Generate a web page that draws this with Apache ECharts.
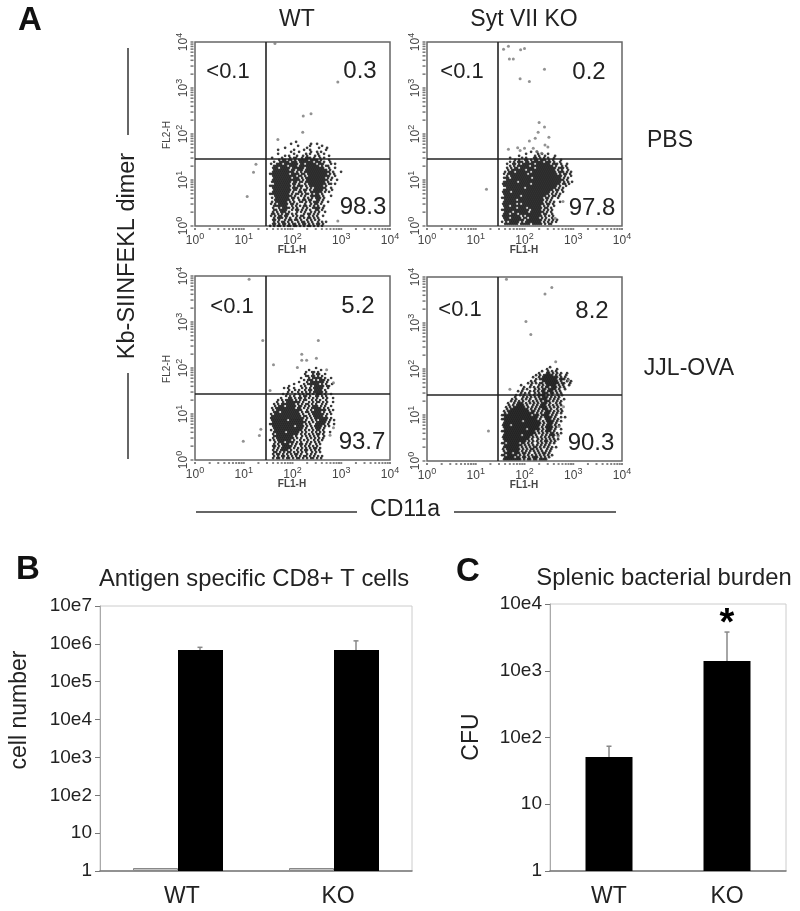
<!DOCTYPE html>
<html lang="en">
<head>
<meta charset="UTF-8">
<title>Flow cytometry and bars</title>
<script src="https://cdn.jsdelivr.net/npm/echarts@6/dist/echarts.min.js"></script>
<style>html,body{margin:0;background:#fff}#main{width:800px;height:911px}#main canvas{filter:blur(0.4px)}</style>
</head>
<body>
<div id="main"></div>
<script>
// flow panels: outliers are [log10 CD11a, log10 dimer]
var flowExp = ['0', '1', '2', '3', '4'];
var wtPbsOut = [[2.93,3.13],[2.22,2.39],[2.38,2.44],[2.21,2.04],[1.70,1.88],[1.25,1.34],[1.20,1.17],[1.07,0.64],[1.64,3.97],[2.93,0.11]];
var koPbsOut = [[1.57,3.84],[1.67,3.91],[1.92,3.83],[2.0,3.86],[1.69,3.63],[1.77,3.63],[2.41,3.41],[1.91,3.2],[2.10,3.14],[2.30,2.25],[2.41,2.15],[2.28,2.04],[2.50,1.93],[2.22,1.91],[2.10,1.85],[2.42,1.76],[2.48,1.72],[1.67,1.67],[1.86,1.70],[2.0,1.69],[1.91,1.64],[2.18,1.69],[2.25,1.62],[2.35,1.58],[1.22,0.80],[2.79,0.53],[2.63,0.17]];
var wtOvaOut = [[1.11,3.93],[1.39,2.60],[2.53,2.60],[2.19,2.30],[2.19,2.17],[2.29,2.17],[2.49,2.21],[1.61,2.07],[2.10,2.01],[2.70,1.96],[1.54,1.51],[2.84,1.68],[0.99,0.41],[1.32,0.53],[1.35,0.67],[2.84,0.70],[2.77,0.54]];
var koOvaOut = [[1.63,3.95],[2.56,3.77],[2.42,3.63],[2.03,3.03],[2.13,2.75],[2.64,2.16],[1.70,1.56],[2.90,1.76],[1.26,0.65],[2.80,1.18],[2.71,0.75],[2.69,0.53]];

// dense clouds, transcribed as dot maps: '#' = a dot, rows run top to bottom
var wtPbsCloud = [
'..............#','...........#.........#..#','...............#.....#.....#','........#..........#.....#...#',
'.....#.......#....#..#.......#','...........#...#.....#..#.#','.....#.......#.....#.#...#..#','........#.#...#..#.#...#.#....#',
'..#....#...#.##..#.###.#..#.#','.....#.##.##.#.#####.####.#...#','...#..#####.###.#######.###.#..#','.#..###.#######.##.#####.###...#.#',
'...#######.####.##########.#.##','..###.#####.######.#########..#..#','...########.##.###.###########.#','..###########.#.#.#############.#...#',
'.##########.####.##.##########.#.#','..############.##.#.###########..#','...#########.###.#.##########.#.#','..##############.#.###########.#..#',
'..##########.##.##.##########.#','...########.##.#..#.#########.##.#','.###########.#.###.#.#######.#','..#########.###.#..#.#.######..#',
'...#########.##.#.##.#.#####.#..#','..#########.#..##.#..######.#.#','.##########.#.##.#.##.#.##.#','...#########.#..#.#..#####.#...#',
'..#.#######.##.#..#.#.#.###.#','...########.#..#.##.##..##.#','..#.######.#.#..##.#.#.###.#..#','.#.#.#####.##.#...#..#.##.#',
'...#######..#.#.#.##.#.#.#..#','..#..#.####.#.#..#.#..####.#','...##.####..#.##.#.#.#..##.#','..#.#.###.#...#.#.#..#.#.#..#',
'..##.#.#.##.#.#...#.##.#.#','.#.#.##.##..#.#.##..#.#.#..#','...#.###.#.#..#.#.#.##.#.#','..##.#..#.##.##.#..#.#.#.#',
'...#.#.##.#.#..#.##.#.#..#.#.#','..##.#.##.#.##.#.##.#.#.##.#','.#.#.##.#.##.##.#.#.##.#.#.#'];
var koPbsCloud = [
'','','','','','...............#..#','.............#.....#.#..#','.........#.......#.#..#....#',
'.....#.....#.#...##.#.#.#..#','.......#.#..##.#.##.###.#.#...#','.....#.#.###.##.######.###.#..#','...#..##.#.######.#######.###.#..#',
'.....#.#.######.###########.#..#.#','...#.#.##.#######.##########.###.#','....#.#######.##############.#.#..#','..#.###.#######.############.###.#.#',
'..#.##########.##############.#.##.#','...#.##########################.#..#','..###.##########.##############.#.#','...#############################.#',
'..#######.#####################.#.#.#','.##############.##############.##.#','..###########################.#..#','...#########.###############.#.#',
'..#########################.##.#','.####.###################.#.#..#','..#######################.#.#.#','..########.############.#.##.#',
'.#####################.##.#..#','..######.#############.#.#','..####################.#.#.#..#','.#######.#.###########.##.#',
'..###.###############.#.#..#','..######.####.#######.##.#','.##############.#####.#.#.#','..####.#######.#######.#.#',
'..###.###.###########.##..#','.#########.#.########.#.#.#','..###.#####.##.#####.#.#..#','..##########.########.#.#.#.#',
'.#.#.#####.#.########.#.#.#.#','..#######.#####.#####.#.##'];
var wtOvaCloud = [
'........................#','....................#.....#','...................#..##.#','..................#...#.##..#',
'...................##.##.#.#','................#...#.#####.#..#','..................#.###.#.###.#','...............#...#.#######.#',
'.............#....#.######.#.#..#','..........#.....#.#..#.#####.##','........#.#..#...#.#.#.#####..#','..........#..#.#..#.##.####.#',
'..........#.#..#.#.#.#.#####.#','.......#.#...#.#.#.##.#.###.#..#','.........#.#.#..#.##.#..##.#.#','......#...##.#.##.#.#.#.#..#.#..#',
'.....#.#.####.#.#.##..#.#.#..#','....#..#.#######.#..#.#.##.#.#..#','...#.#.#######.#.#.##.#.#..#.#','...#.###.#####.##.#.#.###.#.#..#',
'..#.##########.##.#.#.#####.#.#','..#.#############..#.#.######.#.#','...###.#########.#.##.#####.#..#','.#.#############.#..#.######.#.#',
'..###############.##.#.#####.#','.#################.#.#.#######.#','..########.#######.#..#.#.####.#.#','..#################.#.#.#####.#',
'.#################.#.#..#####.#..#','..###########.####.#.#.####.#.#','...###############.#..#.###.#','.#.##############.#.#.#.##.#',
'...######.######.#.#..#.#.#.#..#','..#.###########.#.#.#.#.##.#','...##########.#..#.#.#.#.#..#','..#.#########.#.#..#.#.#.#.#',
'.#.#.#######.#..#.#.#..#.#.#','...#.###.####.#.#..#.#.#.#','...#.#.####.#.#.##.#.#..#.#','..##.#.#####.#..#.#.#.#.#',
'...#.#.#####.#.#.#.#.#.##.#','..#.#.####.#..#.#.##.#.#.#','...##.#.#.##.#.#.#.#..#.#.#','..#.##.#.#.#.##.#..#.#.#',
'...#.#.##.#.#.#.#.##.#.#.#.#','..#.##.#.##.#.##.#.#.##.#.#'];
var koOvaCloud = [
'.........................#','.......................#....#','.....................#..#.#.#','...................#...##.#.#.#..#',
'..................#.#.#####.#.#..#','................#..#.########.#.#','..................#.#########.###.#','...............#.#...########.#..#.#',
'..............#.#.#.##.#######.##..#','..........#....#...#.#.#####.#.#..#','............#..#.#.#.#.##.###.#.#','...........#.#...#.#.##.####.#..#',
'.........#.#...#.#.#.##.###.#.#','..........#.#.#..#.#.###.##.#.#','........#.#.#..#.#.####.#.#..#.#','.......#...#.#.#.#.#.###.#.#.#',
'......#.#..#.#.#..#.####.#.#.#..#','.....#.#.#.#..#.#.#.#.###.#.#.#','....#..#.###.#.#.#.#.###.#..#.#','....#.#.####.#..#.#.###.#.#.#.#',
'...#.#.######.#.#.#.####.#.#.#','...#.#########.#.#.#.###.#..#.#','..#.###########.##.#.#.###.#.#.#','..#.#############.#.#.###.#.#.#',
'.###############.###.####.#.#','..#################.#.####.#..#.#','.##################.#..###.#.#','..#########.########.#.####.#.#',
'..###################.#.###.#','.####.##############.#.###.#.#','..##################.#.####.#','..###########.######.#.###.#..#',
'.#################.#.#.###.#','..################.#.#.#.##.#.#','..#########.#####.#..#.#.###.#','.##############.#.#.#.#.#.#',
'..#############.#..#.#.#.#.#.#','..###########.#.#.#.#.##.#.#','.##.######.##.#.#..#.#.#.#.#','..#########.#.#.#.#.#.#.#',
'..########.#.#.#.##.#.#.#.#.#','.#.#######.#.#.##.#.#..#.#','..#.######.#.#.#.#.#.#.#.#','..####.###.##.#..#.#.##.#',
'.##.#####.#.#.#.#.#.#.#.#.#','..#####.##.##.#.###.#.#.#','..#########.#.##.##.####'];

// where each cloud map starts (log10 units) and its cell size
var cloudLeft = 1.50;
var cloudTops = [1.83, 1.83, 2.00, 2.04];
var cellX = 0.041;
var cellY = 0.0435;
var gateX = [28.6, 28.6, 28.6, 28.6];
var gateY = [28.6, 28.6, 27.2, 27.2];
var percentLabels = [['<0.1','0.3','98.3'],['<0.1','0.2','97.8'],['<0.1','5.2','93.7'],['<0.1','8.2','90.3']];
var minorMults = [1,2,3,4,5,6,7,8,9];
var decades = [1,10,100,1000];

// panel B
var bCategories = ['WT', 'KO'];
var bTicks = ['1', '10', '10e2', '10e3', '10e4', '10e5', '10e6', '10e7'];
var bControl = [1.2, 1.2];
var bImmunized = [690000, 690000];
var bErrTop = [810000, 1200000];
// panel C
var cCategories = ['WT', 'KO'];
var cTicks = ['1', '10', '10e2', '10e3', '10e4'];
var cBurden = [51, 1400];
var cErrTop = [74, 3800];

function pow10(d) { return Math.pow(10, d); }
function cloudPoints(rows, top) {
    var pts = [];
    rows.forEach(function (row, r) {
        // odd rows sit half a cell over so the map does not read as a grid
        var shift = r % 2 ? 0.5 : 0;
        for (var c = 0; c < row.length; c++) {
            if (row[c] === '#') pts.push([pow10(cloudLeft + (c + shift) * cellX), pow10(top - r * cellY)]);
        }
    });
    return pts;
}
function logLabel(list) {
    return function (v) { return list[Math.round(Math.log10(v))]; };
}
function expLabel(v) {
    return '{b|10}{s|' + flowExp[Math.round(Math.log10(v))] + '}';
}
var expRich = {
    b: { fontSize: 12, lineHeight: 15, verticalAlign: 'bottom', color: '#444', fontFamily: 'Liberation Sans' },
    s: { fontSize: 9, lineHeight: 15, verticalAlign: 'top', color: '#444', fontFamily: 'Liberation Sans' }
};
var tickValues = [];
decades.forEach(function (d) { minorMults.forEach(function (m) { tickValues.push(d * m); }); });
tickValues.push(10000);

var panels = [
    { left: 195, top: 42, h: 184, out: wtPbsOut, cloud: wtPbsCloud, labelPos: [[228,72],[360,71],[363,207]] },
    { left: 427, top: 42, h: 184, out: koPbsOut, cloud: koPbsCloud, labelPos: [[462,72],[589,72],[592,208]] },
    { left: 195, top: 276, h: 184, out: wtOvaOut, cloud: wtOvaCloud, labelPos: [[232,307],[358,306],[362,442]] },
    { left: 427, top: 277, h: 184, out: koOvaOut, cloud: koOvaCloud, labelPos: [[460,310],[592,311],[591,443]] }
];
var grids = [], xAxes = [], yAxes = [], series = [], graphics = [];

function text(str, x, y, size, extra) {
    var e = { type: 'text', x: x, y: y, rotation: 0, silent: true,
        style: { text: str, font: (extra && extra.weight || 'normal') + ' ' + size + 'px "Liberation Sans", Arial, sans-serif',
            fill: (extra && extra.fill) || '#222', textAlign: 'center', textVerticalAlign: 'middle' } };
    if (extra && extra.rot) e.rotation = extra.rot;
    graphics.push(e);
}
function rule(x1, y1, x2, y2, w) {
    graphics.push({ type: 'line', silent: true, shape: { x1: x1, y1: y1, x2: x2, y2: y2 }, style: { stroke: '#333', lineWidth: w || 1.5 } });
}

panels.forEach(function (p, i) {
    grids.push({ left: p.left, top: p.top, width: 195, height: p.h, show: true, borderColor: '#666', borderWidth: 1.5, backgroundColor: '#fff' });
    xAxes.push({ type: 'log', gridIndex: i, min: 1, max: 10000, logBase: 10,
        axisLine: { show: false }, axisTick: { show: false }, splitLine: { show: false },
        axisLabel: { margin: 6, formatter: expLabel, rich: expRich } });
    yAxes.push({ type: 'log', gridIndex: i, min: 1, max: 10000, logBase: 10,
        axisLine: { show: false }, axisTick: { show: false }, splitLine: { show: false },
        axisLabel: { rotate: 90, margin: 5, formatter: expLabel, rich: expRich } });
    series.push({ type: 'scatter', xAxisIndex: i, yAxisIndex: i, silent: true, symbolSize: 2.7,
        itemStyle: { color: '#0a0a0a' }, data: cloudPoints(p.cloud, cloudTops[i]) });
    series.push({ type: 'scatter', xAxisIndex: i, yAxisIndex: i, silent: true, symbolSize: 3,
        itemStyle: { color: '#777' }, data: p.out.map(function (o) { return [pow10(o[0]), pow10(o[1])]; }),
        markLine: { silent: true, symbol: 'none', animation: false, label: { show: false },
            lineStyle: { color: '#222', width: 1.6, type: 'solid' },
            data: [{ xAxis: gateX[i] }, { yAxis: gateY[i] }] } });
    // log spaced ticks sit as little dots outside the frame
    series.push({ type: 'scatter', xAxisIndex: i, yAxisIndex: i, silent: true, clip: false, symbol: 'rect',
        symbolSize: [2, 2], symbolOffset: [0, 3], itemStyle: { color: '#666' },
        data: tickValues.map(function (t) { return [t, 1]; }) });
    series.push({ type: 'scatter', xAxisIndex: i, yAxisIndex: i, silent: true, clip: false, symbol: 'rect',
        symbolSize: [3, 1.5], symbolOffset: [-3, 0], itemStyle: { color: '#555' },
        data: tickValues.map(function (t) { return [1, t]; }) });
    percentLabels[i].forEach(function (s, k) {
        text(s, p.labelPos[k][0], p.labelPos[k][1], k === 0 ? 22 : 24);
    });
    text('FL1-H', p.left + 97, p.top + p.h + 24, 10, { fill: '#444', weight: 'bold' });
    if (p.left === 195) text('FL2-H', 167, p.top + 93, 10, { fill: '#444', rot: Math.PI / 2 });
});

// error stems drawn from the bar top up to the error value, via the axes
function errorBars(gi, values, barVals, offsetPx) {
    return { type: 'custom', xAxisIndex: gi, yAxisIndex: gi, silent: true, z: 1,
        data: values.map(function (v, k) { return [k, v, barVals[k]]; }),
        encode: { x: 0, y: 1 },
        renderItem: function (params, api) {
            var top = api.coord([api.value(0), api.value(1)]);
            var base = api.coord([api.value(0), api.value(2)]);
            var x = top[0] + offsetPx;
            return { type: 'group', children: [
                { type: 'line', shape: { x1: x, y1: top[1], x2: x, y2: base[1] }, style: { stroke: '#888', lineWidth: 1.5 } },
                { type: 'line', shape: { x1: x - 2.5, y1: top[1], x2: x + 2.5, y2: top[1] }, style: { stroke: '#888', lineWidth: 1.5 } }
            ] };
        } };
}

// panel B, grid 4
grids.push({ left: 100, top: 606, width: 312, height: 265, show: true, borderColor: '#ccc', borderWidth: 1 });
xAxes.push({ type: 'category', gridIndex: 4, data: bCategories,
    axisLine: { lineStyle: { color: '#777', width: 1.5 } }, axisTick: { length: 4, lineStyle: { color: '#bbb' } },
    axisLabel: { color: '#222', fontSize: 23, margin: 14, fontFamily: 'Liberation Sans', padding: [0, 0, 0, 8] } });
yAxes.push({ type: 'log', gridIndex: 4, min: 1, max: 10000000, logBase: 10, splitLine: { show: false },
    axisLine: { show: true, lineStyle: { color: '#aaa' } }, axisTick: { show: true, length: 5, lineStyle: { color: '#777' } },
    axisLabel: { color: '#222', fontSize: 19, margin: 8, fontFamily: 'Liberation Sans', formatter: logLabel(bTicks) } });
series.push({ type: 'bar', xAxisIndex: 4, yAxisIndex: 4, silent: true, barWidth: 45, barGap: 0, data: bControl, itemStyle: { color: '#c4c4c4', borderColor: '#888', borderWidth: 1 } });
series.push({ type: 'bar', xAxisIndex: 4, yAxisIndex: 4, silent: true, barWidth: 45, barGap: 0, data: bImmunized, itemStyle: { color: '#000' } });
series.push(errorBars(4, bErrTop, bImmunized, 22));

// panel C, grid 5
grids.push({ left: 550, top: 604, width: 236, height: 267, show: true, borderColor: '#ccc', borderWidth: 1 });
xAxes.push({ type: 'category', gridIndex: 5, data: cCategories,
    axisLine: { lineStyle: { color: '#777', width: 1.5 } }, axisTick: { length: 4, lineStyle: { color: '#bbb' } },
    axisLabel: { color: '#222', fontSize: 23, margin: 14, fontFamily: 'Liberation Sans' } });
yAxes.push({ type: 'log', gridIndex: 5, min: 1, max: 10000, logBase: 10, splitLine: { show: false },
    axisLine: { show: true, lineStyle: { color: '#aaa' } }, axisTick: { show: true, length: 5, lineStyle: { color: '#777' } },
    axisLabel: { color: '#222', fontSize: 19, margin: 8, fontFamily: 'Liberation Sans', formatter: logLabel(cTicks) } });
series.push({ type: 'bar', xAxisIndex: 5, yAxisIndex: 5, silent: true, barWidth: 47, data: cBurden, itemStyle: { color: '#000' } });
series.push(errorBars(5, cErrTop, cBurden, 0));

// annotation text
text('A', 30, 21, 33, { weight: 'bold', fill: '#111' });
text('B', 28, 570, 33, { weight: 'bold', fill: '#111' });
text('C', 468, 572, 33, { weight: 'bold', fill: '#111' });
text('WT', 297, 20, 23);
text('Syt VII KO', 524, 20, 23);
text('PBS', 670, 141, 23);
text('JJL-OVA', 689, 369, 23);
text('Kb-SIINFEKL dimer', 128, 256, 23.5, { rot: Math.PI / 2 });
text('CD11a', 405, 510, 23);
text('Antigen specific CD8+ T cells', 254, 579, 23.8);
text('Splenic bacterial burden', 664, 578, 23.8);
text('cell number', 20, 710, 23, { rot: Math.PI / 2 });
text('CFU', 472, 737, 23, { rot: Math.PI / 2 });
text('*', 727, 625, 38, { weight: 'bold', fill: '#000' });
rule(128, 48, 128, 135);
rule(128, 373, 128, 459);
rule(196, 512, 357, 512);
rule(454, 512, 616, 512);

var myChart = echarts.init(document.getElementById('main'));
myChart.setOption({
    animation: false,
    backgroundColor: '#fff',
    grid: grids,
    xAxis: xAxes,
    yAxis: yAxes,
    series: series,
    graphic: graphics
});
</script>
</body>
</html>
